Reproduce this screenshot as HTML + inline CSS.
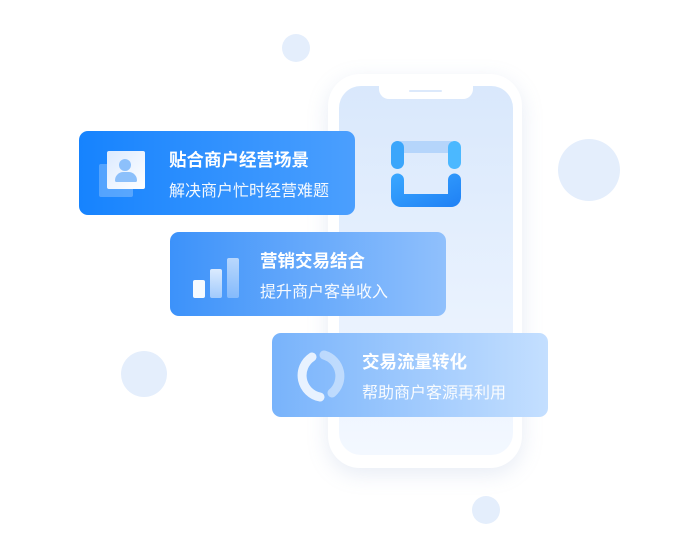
<!DOCTYPE html>
<html><head><meta charset="utf-8"><style>
body{margin:0;width:700px;height:560px;background:#fff;position:relative;overflow:hidden;font-family:"Liberation Sans","Noto Sans CJK SC",sans-serif}
.c{position:absolute;border-radius:50%;background:#e4eefc}
.phone{position:absolute;left:328px;top:74px;width:194px;height:394px;border-radius:32px;background:#fff;box-shadow:0 6px 22px rgba(120,150,200,.18)}
.screen{position:absolute;left:11px;top:12px;width:174px;height:369px;border-radius:22px;background:linear-gradient(#d9e8fc,#f3f8ff)}
.notch{position:absolute;left:40px;top:0;width:94px;height:13px;background:#fff;border-radius:0 0 10px 10px}
.card{position:absolute;width:276px;height:84px;border-radius:9px;color:#fff}
.t{position:absolute;left:90px;top:16px;font-size:17.5px;font-weight:bold;white-space:nowrap}
.s{position:absolute;left:90px;top:46px;font-size:16px;opacity:.95;white-space:nowrap}
</style></head><body>
<div class="c" style="left:282px;top:34px;width:28px;height:28px"></div>
<div class="c" style="left:558px;top:139px;width:62px;height:62px"></div>
<div class="c" style="left:121px;top:351px;width:46px;height:46px"></div>
<div class="c" style="left:472px;top:496px;width:28px;height:28px"></div>
<div class="phone"><div class="screen"><div class="notch"><div style="position:absolute;left:30px;top:4px;width:33px;height:2px;background:#dce9fb;border-radius:1px"></div></div></div></div>
<svg style="position:absolute;left:390px;top:140px" width="74" height="70">
<defs><linearGradient id="g" x1="0" y1="0" x2="1" y2="1"><stop offset="0" stop-color="#3aa8ff"/><stop offset="1" stop-color="#1f80f5"/></linearGradient></defs>
<rect x="10" y="1" width="52" height="12" fill="#b5d5fb"/>
<rect x="1" y="1" width="13" height="28" rx="6.5" fill="#3ba6fb"/>
<rect x="58" y="1" width="13" height="28" rx="6.5" fill="#4bb8ff"/>
<path d="M1 40a6.5 6.5 0 0 1 13 0v14h44v-14a6.5 6.5 0 0 1 13 0v17a10 10 0 0 1-10 10h-50a10 10 0 0 1-10-10z" fill="url(#g)"/>
</svg>
<div class="card" style="left:79px;top:131px;background:linear-gradient(90deg,#1683fe,#4b9ffe)">
<div style="position:absolute;left:20px;top:33px;width:34px;height:33px;background:rgba(255,255,255,.25);border-radius:2px"></div>
<div style="position:absolute;left:28px;top:20px;width:38px;height:38px;background:linear-gradient(135deg,#dbeaff,#fff);border-radius:2px"></div>
<div style="position:absolute;left:40px;top:28px;width:12px;height:12px;border-radius:50%;background:#8cc0fb"></div>
<div style="position:absolute;left:36px;top:41px;width:22px;height:10px;border-radius:10px 10px 2px 2px;background:#8cc0fb"></div>
<div class="t">贴合商户经营场景</div><div class="s">解决商户忙时经营难题</div></div>
<div class="card" style="left:170px;top:232px;background:linear-gradient(90deg,#3c92fa,#90c0fc)">
<div style="position:absolute;left:23px;top:48px;width:12px;height:18px;background:#fff;border-radius:2px;opacity:.95"></div>
<div style="position:absolute;left:40px;top:37px;width:12px;height:29px;background:linear-gradient(#fff,rgba(255,255,255,.6));border-radius:2px;opacity:.8"></div>
<div style="position:absolute;left:57px;top:26px;width:12px;height:40px;background:linear-gradient(rgba(255,255,255,.6),rgba(255,255,255,.3));border-radius:2px"></div>
<div class="t">营销交易结合</div><div class="s">提升商户客单收入</div></div>
<div class="card" style="left:272px;top:333px;background:linear-gradient(90deg,#78b3fb,#c4dfff)">
<svg style="position:absolute;left:20px;top:16px" width="58" height="55"><path d="M20 8 A22 22 0 0 0 28 48" stroke="#e8f2ff" stroke-width="9" fill="none" stroke-linecap="round"/><path d="M32 6 A22 22 0 0 1 40 44" stroke="rgba(255,255,255,.45)" stroke-width="9" fill="none" stroke-linecap="round"/></svg>
<div class="t">交易流量转化</div><div class="s">帮助商户客源再利用</div></div>
</body></html>
